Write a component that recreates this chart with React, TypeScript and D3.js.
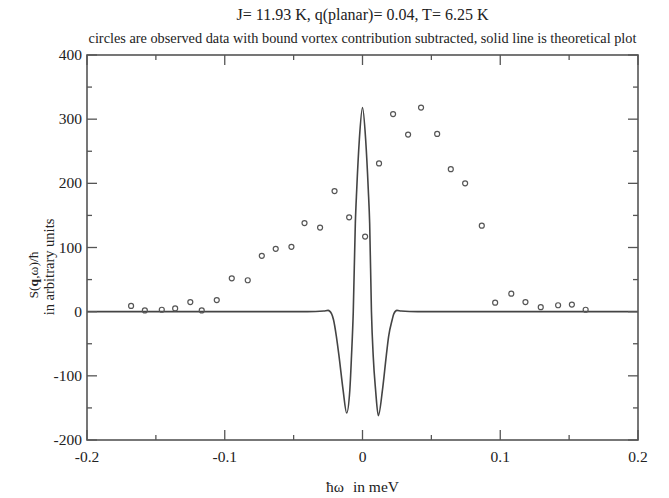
import React from "react";
import * as d3 from "d3";

// Observed data (circles)
const obsX = [-0.168, -0.158, -0.1457, -0.136, -0.125, -0.1167, -0.1058, -0.0949, -0.0833, -0.0731, -0.063, -0.0516, -0.0421, -0.0308, -0.0203, -0.0097, 0.0019, 0.012, 0.0222, 0.0331, 0.0425, 0.0542, 0.0641, 0.0745, 0.0866, 0.0963, 0.108, 0.1183, 0.1294, 0.142, 0.152, 0.162];
const obsY = [9, 2, 3, 5, 15, 2, 18, 52, 49, 87, 98, 101, 138, 131, 188, 147, 117, 231, 308, 276, 318, 277, 222, 200, 134, 14, 28, 15, 7, 10, 11, 3];

// Theoretical curve (solid line)
const lineX = [-0.2, -0.04, -0.028, -0.025, -0.0225, -0.021, -0.019, -0.017, -0.0141, -0.0115, -0.0092, -0.008, -0.0067, -0.0052, -0.0042, -0.0023, 0, 0.0023, 0.0042, 0.0052, 0.0065, 0.0078, 0.0095, 0.0115, 0.0145, 0.0172, 0.019, 0.0215, 0.0228, 0.025, 0.028, 0.04, 0.2];
const lineY = [0, 0, 1, 2, -3, -13, -38, -70, -122, -158, -122, -70, 0, 138, 190, 268, 318, 268, 190, 138, 0, -70, -122, -162, -122, -70, -38, -13, -3, 2, 1, 0, 0];

const xTicks = [-0.2, -0.1, 0, 0.1, 0.2];
const xMinor = [-0.15, -0.05, 0.05, 0.15];
const yTicks = [-200, -100, 0, 100, 200, 300, 400];
const yMinor = [-150, -50, 50, 150, 250, 350];

const title = "J= 11.93 K, q(planar)= 0.04, T= 6.25 K";
const subtitle = "circles are observed data with bound vortex contribution subtracted, solid line is theoretical plot";

export default function App() {
  const W = 669, H = 498;
  const L = 87, R = 638, T = 55, B = 440;
  const x = d3.scaleLinear().domain([-0.2, 0.2]).range([L, R]);
  const y = d3.scaleLinear().domain([-200, 400]).range([B, T]);
  const pts = lineX.map((v, i) => [v, lineY[i]] as [number, number]);
  const line = d3.line<[number, number]>().x(d => x(d[0])).y(d => y(d[1])).curve(d3.curveMonotoneX);
  const font = "'Liberation Serif', 'Times New Roman', serif";
  const ax = "#555";
  const txt = "#222";
  const cx = (L + R) / 2;
  return (
    <svg width={W} height={H} style={{ position: "absolute", left: 0, top: 0, background: "#fff" }} fontFamily={font}>
      <rect x={0} y={0} width={W} height={H} fill="#fff" />
      <text x={cx} y={20} textAnchor="middle" fontSize={16} fill={txt}>{title}</text>
      <text x={cx} y={43} textAnchor="middle" fontSize={14.3} fill={txt}>{subtitle}</text>
      {/* curve */}
      <path d={line(pts) || ""} fill="none" stroke="#444" strokeWidth={1.6} />
      {obsX.map((v, i) => (
        <circle key={i} cx={x(v)} cy={y(obsY[i])} r={2.5} fill="none" stroke="#555" strokeWidth={1.2} />
      ))}
      {/* frame */}
      <rect x={L} y={T} width={R - L} height={B - T} fill="none" stroke={ax} strokeWidth={1.6} />
      {xTicks.map((t, i) => (
        <g key={"xt" + i}>
          <line x1={x(t)} x2={x(t)} y1={B} y2={B - 10} stroke={ax} strokeWidth={1.3} />
          <line x1={x(t)} x2={x(t)} y1={T} y2={T + 10} stroke={ax} strokeWidth={1.3} />
          <text x={x(t)} y={462} textAnchor="middle" fontSize={15.5} fill={txt}>{t === 0 ? "0" : String(t)}</text>
        </g>
      ))}
      {xMinor.map((t, i) => (
        <g key={"xm" + i}>
          <line x1={x(t)} x2={x(t)} y1={B} y2={B - 5} stroke={ax} strokeWidth={1.3} />
          <line x1={x(t)} x2={x(t)} y1={T} y2={T + 5} stroke={ax} strokeWidth={1.3} />
        </g>
      ))}
      {yTicks.map((t, i) => (
        <g key={"yt" + i}>
          <line x1={L} x2={L + 10} y1={y(t)} y2={y(t)} stroke={ax} strokeWidth={1.3} />
          <line x1={R} x2={R - 10} y1={y(t)} y2={y(t)} stroke={ax} strokeWidth={1.3} />
          <text x={82} y={y(t) + 5} textAnchor="end" fontSize={15.5} fill={txt}>{String(t)}</text>
        </g>
      ))}
      {yMinor.map((t, i) => (
        <g key={"ym" + i}>
          <line x1={L} x2={L + 5} y1={y(t)} y2={y(t)} stroke={ax} strokeWidth={1.3} />
          <line x1={R} x2={R - 5} y1={y(t)} y2={y(t)} stroke={ax} strokeWidth={1.3} />
        </g>
      ))}
      {/* axis labels */}
      <text x={cx} y={492} textAnchor="middle" fontSize={15.5} fill={txt}>
        ħω<tspan dx={9}>in meV</tspan>
      </text>
      <g transform="translate(38,275) rotate(-90)">
        <text x={0} y={0} textAnchor="middle" fontSize={13.5} fill={txt}>
          S(<tspan fontWeight="bold">q</tspan>,ω)/ħ
        </text>
      </g>
      <g transform="translate(54,267) rotate(-90)">
        <text x={0} y={0} textAnchor="middle" fontSize={14.5} fill={txt}>in arbitrary units</text>
      </g>
    </svg>
  );
}
